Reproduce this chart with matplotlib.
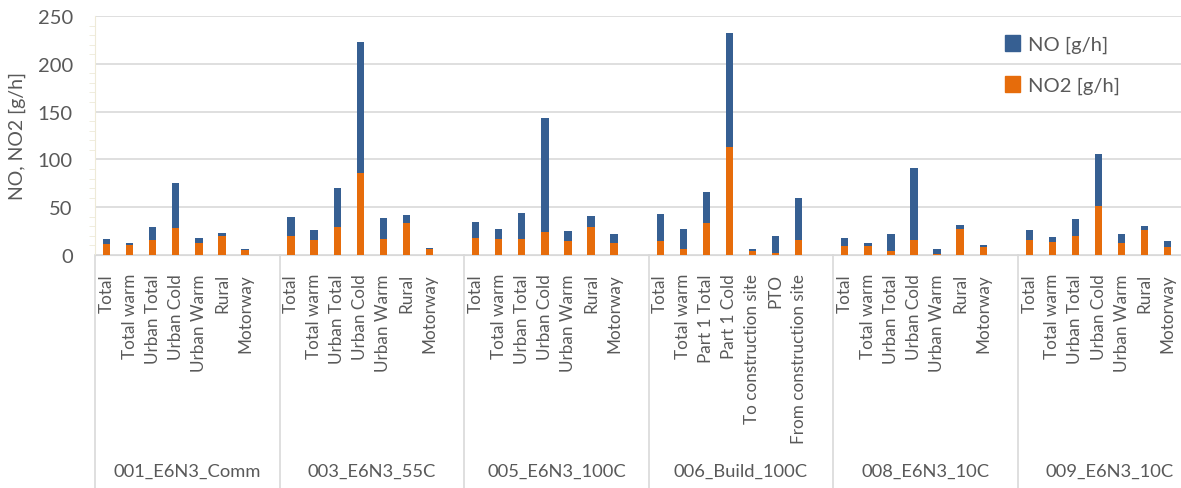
import matplotlib.pyplot as plt
import numpy as np
from matplotlib.patches import Patch
from matplotlib.transforms import blended_transform_factory

plt.rcParams['font.family'] = ['Lato', 'DejaVu Sans']

groups = ['001_E6N3_Comm', '003_E6N3_55C', '005_E6N3_100C',
          '006_Build_100C', '008_E6N3_10C', '009_E6N3_10C']
std_labels = ['Total', 'Total warm', 'Urban Total', 'Urban Cold',
              'Urban Warm', 'Rural', 'Motorway']
build_labels = ['Total', 'Total warm', 'Part 1 Total', 'Part 1 Cold',
                'To construction site', 'PTO', 'From construction site']
cat_labels = [std_labels, std_labels, std_labels, build_labels, std_labels, std_labels]

# NO2 [g/h] (orange, bottom) per group
no2 = [
    [11.2, 10.5, 15.7, 27.9, 12.6, 20.2, 4.9],
    [19.9, 15.7, 28.9, 86.1, 17.1, 33.5, 5.9],
    [17.8, 17.1, 17.1, 23.7, 15.0, 28.9, 12.9],
    [14.6, 6.3, 33.5, 113.3, 4.5, 2.1, 16.0],
    [9.1, 9.1, 3.8, 16.0, 0.7, 27.2, 8.4],
    [16.0, 13.6, 20.2, 50.9, 12.6, 25.8, 8.4],
]
# NO [g/h] (blue, stacked on top)
no = [
    [5.5, 1.7, 13.2, 47.1, 5.5, 2.5, 1.4],
    [19.8, 10.5, 41.5, 136.4, 21.6, 8.7, 1.4],
    [16.7, 10.1, 27.2, 119.3, 9.8, 12.2, 8.7],
    [28.6, 20.9, 32.1, 119.3, 1.8, 18.1, 43.6],
    [9.0, 3.5, 17.8, 75.4, 5.6, 4.2, 2.1],
    [10.2, 5.6, 17.5, 54.7, 9.0, 4.5, 6.2],
]

blue = '#365F92'
orange = '#E66C0B'
txt = '#595959'
grid = '#D9D9D9'
slots = 8  # 7 categories + one empty slot per group

fig = plt.figure(figsize=(11.81, 4.89), dpi=100)
ax = fig.add_axes([95 / 1181, 1 - 256 / 489, 1 - 95 / 1181, 239 / 489])

xs, labels = [], []
for g in range(len(groups)):
    x = g * slots + np.arange(7)
    ax.bar(x, no2[g], width=0.32, color=orange, zorder=3)
    ax.bar(x, no[g], width=0.32, bottom=no2[g], color=blue, zorder=3)
    xs.extend(x)
    labels.extend(cat_labels[g])

ax.set_xlim(-0.5, (1181 - 95) / 23.07 - 0.5)
ax.set_ylim(0, 250)
ax.set_yticks(np.arange(0, 251, 50))
ax.set_yticks(np.arange(0, 251, 10), minor=True)
ax.yaxis.grid(True, color=grid, lw=1.2, zorder=0)
ax.set_axisbelow(True)

ax.set_xticks(xs)
ax.set_xticklabels(labels, rotation=90, fontsize=12.3, color=txt)
ax.tick_params(axis='x', length=0, pad=13)
ax.tick_params(axis='y', which='major', length=0, pad=16, labelsize=14.5, labelcolor=txt)
ax.tick_params(axis='y', which='minor', length=4, color='#EEEAD8')
ax.set_ylabel('NO, NO2 [g/h]', fontsize=14, color=txt, labelpad=8)

for s in ['top', 'right']:
    ax.spines[s].set_visible(False)
ax.spines['left'].set_color('#EEEAD8')
ax.spines['bottom'].set_color(grid)

trans = blended_transform_factory(ax.transData, ax.transAxes)
for g, name in enumerate(groups):
    x0 = g * slots - 0.5
    ax.plot([x0, x0], [0, -0.98], transform=trans, color=grid, lw=1.2, clip_on=False)
    ax.text(x0 + slots / 2, -0.905, name, transform=trans, ha='center', va='center',
            fontsize=13.2, color=txt)

handles = [Patch(color=blue, label='NO [g/h]'), Patch(color=orange, label='NO2 [g/h]')]
fig.legend(handles=handles, loc='upper left', bbox_to_anchor=(987 / 1181, 1 - 18 / 489),
           frameon=False, fontsize=14.5, handlelength=0.75, handleheight=0.85,
           handletextpad=0.4, labelspacing=1.1, labelcolor=txt)

fig.savefig('out.png', dpi=100)
